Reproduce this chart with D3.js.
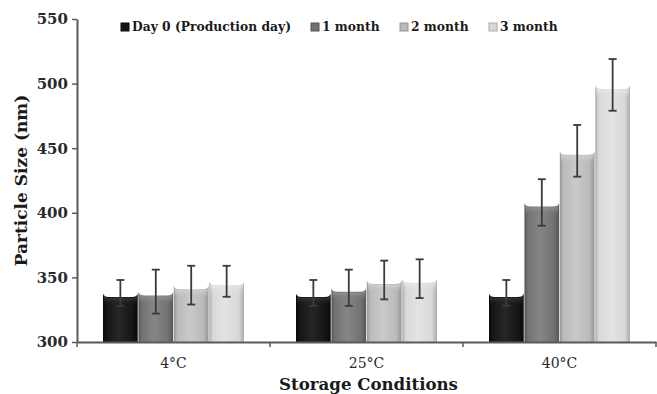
<!DOCTYPE html>
<html>
<head>
<meta charset="utf-8">
<script src="https://cdn.jsdelivr.net/npm/d3@7"></script>
<style>
  html, body { margin: 0; padding: 0; background: #fff; }
  svg { display: block; }
  .tick text { font-family: "DejaVu Serif", serif; }
</style>
</head>
<body>
<svg id="chart" width="657" height="394"></svg>
<script>
// Storage conditions and sampling times
const categories = ["4°C", "25°C", "40°C"];
const seriesNames = ["Day 0 (Production day)", "1 month", "2 month", "3 month"];

// Mean particle size (nm) per storage condition
const day0 = [338, 338, 338];
const month1 = [339, 342, 408];
const month2 = [344, 348, 448];
const month3 = [347, 349, 499];

// Standard deviations (nm)
const day0Err = [10, 10, 10];
const month1Err = [17, 14, 18];
const month2Err = [15, 15, 20];
const month3Err = [12, 15, 20];

const yTicks = [300, 350, 400, 450, 500, 550];

const seriesValues = [day0, month1, month2, month3];
const seriesErrors = [day0Err, month1Err, month2Err, month3Err];

// Bar shading: edge, base, highlight, top rim
const palette = [
  { edge: "#080808", base: "#151515", light: "#262626", rim: "#555555" },
  { edge: "#555555", base: "#727272", light: "#868686", rim: "#b0b0b0" },
  { edge: "#959595", base: "#bababa", light: "#c9c9c9", rim: "#e6e6e6" },
  { edge: "#ababab", base: "#d8d8d8", light: "#e3e3e3", rim: "#f4f4f4" }
];

const svg = d3.select("#chart");
const margin = { left: 77, right: 1, top: 19, bottom: 52 };
const W = 657, H = 394;

const x0 = d3.scaleBand().domain(categories).range([margin.left, W - margin.right]).paddingInner(0).paddingOuter(0);
const groupPad = 26;
const x1 = d3.scaleBand().domain(seriesNames).range([groupPad, x0.bandwidth() - groupPad]).paddingInner(0.02);
const y = d3.scaleLinear().domain([300, 550]).range([H - margin.bottom, margin.top]);

const defs = svg.append("defs");
palette.forEach((p, i) => {
  const g = defs.append("linearGradient").attr("id", "grad" + i)
    .attr("x1", "0%").attr("x2", "100%").attr("y1", "0%").attr("y2", "0%");
  g.append("stop").attr("offset", "0%").attr("stop-color", p.edge);
  g.append("stop").attr("offset", "10%").attr("stop-color", p.base);
  g.append("stop").attr("offset", "45%").attr("stop-color", p.light);
  g.append("stop").attr("offset", "85%").attr("stop-color", p.base);
  g.append("stop").attr("offset", "100%").attr("stop-color", p.edge);
  const t = defs.append("linearGradient").attr("id", "rim" + i)
    .attr("x1", "0%").attr("x2", "0%").attr("y1", "0%").attr("y2", "100%");
  t.append("stop").attr("offset", "0%").attr("stop-color", p.rim);
  t.append("stop").attr("offset", "100%").attr("stop-color", p.base).attr("stop-opacity", 0);
});

// Bars
const groups = svg.append("g").selectAll("g")
  .data(categories)
  .join("g")
  .attr("transform", d => `translate(${x0(d)},0)`);

const barData = (cat, ci) => seriesNames.map((s, si) => ({
  series: s, si, value: seriesValues[si][ci], err: seriesErrors[si][ci]
}));

groups.each(function (cat, ci) {
  const g = d3.select(this);
  barData(cat, ci).forEach(d => {
    const xl = x1(d.series), w = x1.bandwidth(), xr = xl + w;
    const yt = y(d.value), yb = y(300);
    const dip = 4, r = 6;
    const shape = `M${xl},${yb} L${xl},${yt} Q${xl},${yt + dip} ${xl + r},${yt + dip} L${xr - r},${yt + dip} Q${xr},${yt + dip} ${xr},${yt} L${xr},${yb} Z`;
    g.append("path").attr("d", shape).attr("fill", `url(#grad${d.si})`);
    // top rim highlight
    const rim = `M${xl + 1},${yt + 1} Q${xl + 1},${yt + dip + 1} ${xl + r},${yt + dip + 1} L${xr - r},${yt + dip + 1} Q${xr - 1},${yt + dip + 1} ${xr - 1},${yt + 1} L${xr - 1},${yt + dip + 9} L${xl + 1},${yt + dip + 9} Z`;
    g.append("path").attr("d", rim).attr("fill", `url(#rim${d.si})`);
  });
});

// Error bars
groups.each(function (cat, ci) {
  const g = d3.select(this);
  barData(cat, ci).forEach(d => {
    const cx = x1(d.series) + x1.bandwidth() / 2;
    const yHi = y(d.value + d.err), yLo = y(d.value - d.err);
    const col = "#3a3a3a";
    g.append("line").attr("x1", cx).attr("x2", cx).attr("y1", yHi).attr("y2", yLo)
      .attr("stroke", col).attr("stroke-width", 1.8);
    [yHi, yLo].forEach(yy => g.append("line")
      .attr("x1", cx - 4).attr("x2", cx + 4).attr("y1", yy).attr("y2", yy)
      .attr("stroke", col).attr("stroke-width", 1.8));
  });
});

// Axes
const axisColor = "#5a5a5a";
const yAxis = svg.append("g").attr("transform", `translate(${margin.left},0)`)
  .call(d3.axisLeft(y).tickValues(yTicks).tickSize(5).tickSizeOuter(0).tickPadding(4));
yAxis.select(".domain").attr("stroke", axisColor).attr("stroke-width", 2);
yAxis.selectAll(".tick line").attr("stroke", axisColor).attr("stroke-width", 1.5);
yAxis.selectAll(".tick text").attr("font-size", 15).attr("fill", "#2a2a2a")
  .attr("font-weight", "600");

const xAxis = svg.append("g").attr("transform", `translate(0,${y(300)})`)
  .call(d3.axisBottom(x0).tickSize(0).tickPadding(16));
xAxis.select(".domain").attr("stroke", axisColor).attr("stroke-width", 2);
xAxis.selectAll(".tick text").attr("font-size", 14).attr("fill", "#2a2a2a");
// boundary ticks between categories
const bounds = categories.map(c => x0(c) + x0.bandwidth()).concat([x0(categories[0])]);
xAxis.selectAll(".bound").data(bounds).join("line").attr("class", "bound")
  .attr("x1", d => d).attr("x2", d => d).attr("y1", 0).attr("y2", 5)
  .attr("stroke", axisColor).attr("stroke-width", 1.5);

// Axis titles
svg.append("text")
  .attr("transform", `translate(27,${(y(300) + y(550)) / 2}) rotate(-90)`)
  .attr("text-anchor", "middle")
  .attr("font-family", "DejaVu Serif, serif").attr("font-weight", "bold")
  .attr("font-size", 17).attr("fill", "#1a1a1a")
  .text("Particle Size (nm)");

svg.append("text")
  .attr("x", (margin.left + W - margin.right) / 2 + 2).attr("y", 390)
  .attr("text-anchor", "middle")
  .attr("font-family", "DejaVu Serif, serif").attr("font-weight", "bold")
  .attr("font-size", 16.6).attr("fill", "#1a1a1a")
  .text("Storage Conditions");

// Legend
const legendX = [121, 311, 400, 489];
const legend = svg.append("g").selectAll("g").data(seriesNames).join("g")
  .attr("transform", (d, i) => `translate(${legendX[i]},27)`);
legend.append("rect").attr("x", 0).attr("y", -4).attr("width", 8).attr("height", 8)
  .attr("fill", (d, i) => palette[i].base).attr("stroke", (d, i) => palette[i].edge).attr("stroke-width", 1);
legend.append("text").attr("x", 11).attr("y", 0).attr("dy", "0.35em")
  .attr("font-family", "DejaVu Serif, serif").attr("font-weight", "bold")
  .attr("font-size", 12.3).attr("fill", "#1a1a1a")
  .text(d => d);
</script>
</body>
</html>
